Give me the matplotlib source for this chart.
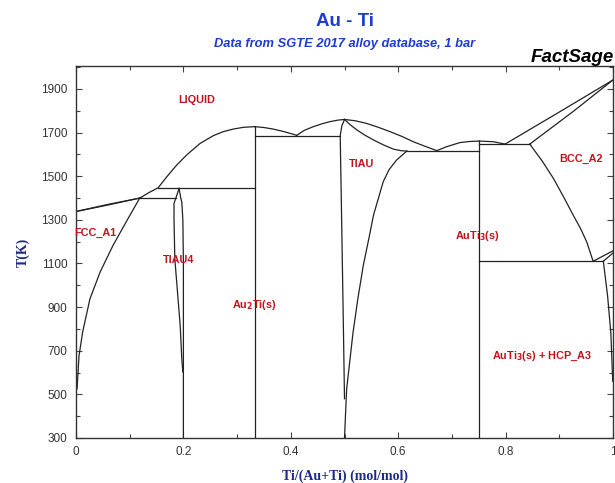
import matplotlib
matplotlib.use("Agg")
import matplotlib.pyplot as plt
from matplotlib.ticker import MultipleLocator

# ---------------- data (x = Ti/(Au+Ti), T in K) ----------------
fcc_liq_x = [0.0, 0.06, 0.122]
fcc_liq_T = [1338, 1371, 1401]
fcc_sol_x = [0.0, 0.06, 0.119]
fcc_sol_T = [1338, 1368, 1400]

fcc_solvus_x = [0.119, 0.097, 0.069, 0.045, 0.026, 0.0125, 0.0056, 0.002]
fcc_solvus_T = [1401, 1306, 1183, 1061, 938, 787, 677, 525]

liq1_x = [0.119, 0.136, 0.153, 0.169, 0.1875, 0.206, 0.231, 0.256, 0.274, 0.293, 0.312, 0.333]
liq1_T = [1400, 1425, 1447, 1497, 1551, 1597, 1650, 1686, 1704, 1716, 1724, 1727]
liq2_x = [0.333, 0.350, 0.367, 0.386, 0.405, 0.411]
liq2_T = [1727, 1723, 1716, 1705, 1692, 1687]
liq3_x = [0.411, 0.425, 0.442, 0.458, 0.473, 0.488, 0.5]
liq3_T = [1687, 1710, 1727, 1740, 1750, 1757, 1760]
liq4_x = [0.5, 0.520, 0.541, 0.563, 0.585, 0.607, 0.628, 0.650, 0.672]
liq4_T = [1760, 1754, 1742, 1724, 1704, 1682, 1658, 1637, 1617]
liq5_x = [0.672, 0.690, 0.715, 0.733, 0.751]
liq5_T = [1617, 1635, 1654, 1659, 1661]
liq6_x = [0.751, 0.777, 0.799]
liq6_T = [1661, 1658, 1647]
bcc_liq_x = [0.799, 0.9, 1.0]
bcc_liq_T = [1647, 1794, 1941]
bcc_sol_x = [0.845, 0.926, 1.0]
bcc_sol_T = [1647, 1797, 1941]
bcc_solvus_x = [0.845, 0.868, 0.889, 0.908, 0.926, 0.940, 0.951, 0.963]
bcc_solvus_T = [1647, 1570, 1490, 1405, 1321, 1258, 1199, 1110]
hcp_solvus_x = [0.982, 0.990, 0.996, 0.9995]
hcp_solvus_T = [1110, 950, 780, 560]
transus1_x = [0.963, 1.0]
transus1_T = [1110, 1158]
transus2_x = [0.982, 1.0]
transus2_T = [1110, 1148]

tiau_sol_x = [0.5, 0.510, 0.523, 0.538, 0.554, 0.572, 0.591, 0.605, 0.616]
tiau_sol_T = [1760, 1737, 1712, 1688, 1666, 1644, 1624, 1617, 1615]
tiau_left_x = [0.5, 0.495, 0.492, 0.494, 0.496, 0.498, 0.5]
tiau_left_T = [1760, 1730, 1686, 1400, 1100, 800, 480]
tiau_right_x = [0.616, 0.597, 0.583, 0.572, 0.554, 0.545, 0.535, 0.525, 0.516, 0.504, 0.5]
tiau_right_T = [1615, 1574, 1530, 1474, 1321, 1210, 1091, 940, 786, 525, 300]

tiau4_left_x = [0.192, 0.186, 0.1825, 0.1825, 0.184, 0.189, 0.194, 0.197, 0.199]
tiau4_left_T = [1444, 1400, 1375, 1306, 1122, 969, 816, 663, 602]
tiau4_right_x = [0.192, 0.195, 0.197, 0.199, 0.2, 0.2]
tiau4_right_T = [1444, 1401, 1382, 1300, 1100, 300]

au2ti_x = [0.3333, 0.3333]
au2ti_T = [300, 1727]
auti3_x = [0.751, 0.751]
auti3_T = [300, 1661]

# invariant (horizontal) lines: T, x_start, x_end
inv_T = [1400, 1447, 1686, 1615, 1647, 1110]
inv_x0 = [0.119, 0.153, 0.3333, 0.616, 0.751, 0.751]
inv_x1 = [0.186, 0.3333, 0.492, 0.751, 0.845, 0.982]

# phase labels
lab_text = ["LIQUID", "FCC_A1", "TIAU4", r"Au$_{\mathbf{2}}$Ti(s)", "TIAU",
            r"AuTi$_{\mathbf{3}}$(s)", "BCC_A2", r"AuTi$_{\mathbf{3}}$(s) + HCP_A3"]
lab_x = [0.225, 0.036, 0.192, 0.333, 0.532, 0.748, 0.940, 0.868]
lab_T = [1850, 1240, 1115, 910, 1555, 1228, 1578, 672]

xticks = [0, 0.2, 0.4, 0.6, 0.8, 1]
xtick_labels = ["0", "0.2", "0.4", "0.6", "0.8", "1"]
yticks = [300, 500, 700, 900, 1100, 1300, 1500, 1700, 1900]

# ---------------- figure ----------------
fig = plt.figure(figsize=(6.15, 4.83), dpi=100)
ax = fig.add_axes([76 / 615, 45 / 483, 537 / 615, 372 / 483])

lc = "#222222"
lw = 0.9
curves = [
    (fcc_liq_x, fcc_liq_T), (fcc_sol_x, fcc_sol_T), (fcc_solvus_x, fcc_solvus_T),
    (liq1_x, liq1_T), (liq2_x, liq2_T), (liq3_x, liq3_T), (liq4_x, liq4_T),
    (liq5_x, liq5_T), (liq6_x, liq6_T), (bcc_liq_x, bcc_liq_T), (bcc_sol_x, bcc_sol_T),
    (bcc_solvus_x, bcc_solvus_T), (hcp_solvus_x, hcp_solvus_T),
    (transus1_x, transus1_T), (transus2_x, transus2_T),
    (tiau_sol_x, tiau_sol_T), (tiau_left_x, tiau_left_T), (tiau_right_x, tiau_right_T),
    (tiau4_left_x, tiau4_left_T), (tiau4_right_x, tiau4_right_T),
    (au2ti_x, au2ti_T), (auti3_x, auti3_T),
]
for cx, cT in curves:
    ax.plot(cx, cT, color=lc, lw=lw, clip_on=True)
for T, x0, x1 in zip(inv_T, inv_x0, inv_x1):
    ax.plot([x0, x1], [T, T], color=lc, lw=lw)

red = "#c0141c"
for t, x, T in zip(lab_text, lab_x, lab_T):
    ax.text(x, T, t, color=red, fontsize=7.8, fontweight="bold",
            family="Liberation Sans", ha="center", va="center")

ax.set_xlim(0, 1)
ax.set_ylim(300, 2005)
ax.set_xticks(xticks)
ax.set_xticklabels(xtick_labels)
ax.set_yticks(yticks)
ax.xaxis.set_minor_locator(MultipleLocator(0.1))
ax.yaxis.set_minor_locator(MultipleLocator(100))
ax.tick_params(which="both", direction="in", top=True, right=True, color="#444444",
               labelsize=8.5, labelcolor="#333333", pad=6)
ax.tick_params(which="major", length=4, width=0.8)
ax.tick_params(which="minor", length=3, width=0.8)
for lbl in ax.get_xticklabels() + ax.get_yticklabels():
    lbl.set_family("Liberation Sans")
for s in ax.spines.values():
    s.set_color("#333333")
    s.set_linewidth(1.0)

navy = "#1c2a86"
ax.set_xlabel("Ti/(Au+Ti) (mol/mol)", family="Liberation Serif", fontweight="bold",
              fontsize=10, color=navy, labelpad=8)
ax.set_ylabel("T(K)", family="Liberation Serif", fontweight="bold",
              fontsize=10, color=navy, labelpad=8)

blue = "#1f3ad0"
fig.text(345 / 615, 1 - 21 / 483, "Au - Ti", family="Liberation Sans", fontweight="bold",
         fontsize=13.5, color=blue, ha="center", va="center")
fig.text(345 / 615, 1 - 44 / 483, "Data from SGTE 2017 alloy database, 1 bar",
         family="Liberation Sans", fontweight="bold", style="italic",
         fontsize=9.3, color=blue, ha="center", va="center")
fig.text(614 / 615, 1 - 58 / 483, "FactSage", family="Liberation Sans", fontweight="bold",
         style="italic", fontsize=13.5, color="black", ha="right", va="center")

fig.savefig("out.png", dpi=100)
